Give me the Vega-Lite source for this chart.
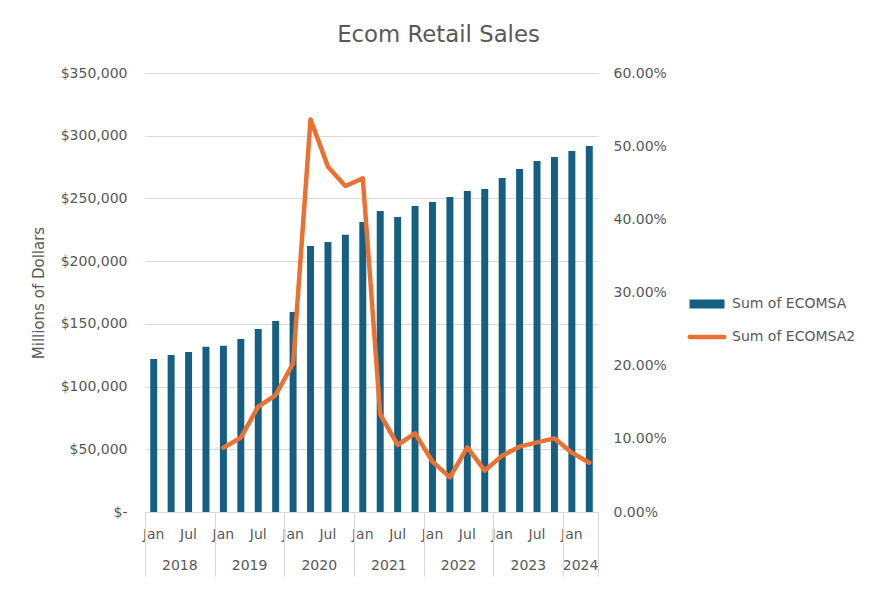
{
  "$schema": "https://vega.github.io/schema/vega-lite/v6.json",
  "width": 453,
  "height": 439,
  "autosize": {"type": "none"},
  "padding": {"left": 145, "top": 73, "right": 280, "bottom": 78},
  "background": "white",
  "title": {"text": "Ecom Retail Sales", "fontSize": 22.8, "font": "DejaVu Sans", "fontWeight": "normal", "color": "#595959", "anchor": "middle", "dx": 67, "offset": 19},
  "config": {
    "font": "DejaVu Sans",
    "view": {"stroke": null},
    "axis": {"labelFont": "DejaVu Sans", "labelFontSize": 14, "labelColor": "#595959", "titleFont": "DejaVu Sans", "titleColor": "#595959", "titleFontWeight": "normal", "domainColor": "#d9d9d9", "gridColor": "#d9d9d9", "tickColor": "#d9d9d9"},
    "legend": {"labelFont": "DejaVu Sans", "labelFontSize": 14, "labelColor": "#595959"}
  },
  "data": {"values": [
    {"q": "2018-Q1", "sales": 122000, "growth": null},
    {"q": "2018-Q2", "sales": 125200, "growth": null},
    {"q": "2018-Q3", "sales": 127600, "growth": null},
    {"q": "2018-Q4", "sales": 131800, "growth": null},
    {"q": "2019-Q1", "sales": 132600, "growth": 0.0879},
    {"q": "2019-Q2", "sales": 137900, "growth": 0.1016},
    {"q": "2019-Q3", "sales": 145900, "growth": 0.1440},
    {"q": "2019-Q4", "sales": 152300, "growth": 0.1599},
    {"q": "2020-Q1", "sales": 159500, "growth": 0.2032},
    {"q": "2020-Q2", "sales": 212100, "growth": 0.5366},
    {"q": "2020-Q3", "sales": 215300, "growth": 0.4720},
    {"q": "2020-Q4", "sales": 221100, "growth": 0.4455},
    {"q": "2021-Q1", "sales": 231200, "growth": 0.4560},
    {"q": "2021-Q2", "sales": 240000, "growth": 0.1335},
    {"q": "2021-Q3", "sales": 235200, "growth": 0.0916},
    {"q": "2021-Q4", "sales": 244000, "growth": 0.1075},
    {"q": "2022-Q1", "sales": 247200, "growth": 0.0688},
    {"q": "2022-Q2", "sales": 251100, "growth": 0.0474},
    {"q": "2022-Q3", "sales": 255900, "growth": 0.0884},
    {"q": "2022-Q4", "sales": 257500, "growth": 0.0565},
    {"q": "2023-Q1", "sales": 266300, "growth": 0.0770},
    {"q": "2023-Q2", "sales": 273500, "growth": 0.0893},
    {"q": "2023-Q3", "sales": 279800, "growth": 0.0952},
    {"q": "2023-Q4", "sales": 283000, "growth": 0.1007},
    {"q": "2024-Q1", "sales": 287800, "growth": 0.0811},
    {"q": "2024-Q2", "sales": 291800, "growth": 0.0674}
  ]},
  "layer": [
    {
      "mark": {"type": "bar"},
      "encoding": {
        "x": {"field": "q", "type": "ordinal", "scale": {"paddingInner": 0.6, "paddingOuter": 0.3},
          "axis": {"orient": "bottom", "title": null, "labelAngle": 0, "ticks": false, "domain": true, "grid": false, "labelPadding": 15,
            "values": ["2018-Q1","2018-Q3","2019-Q1","2019-Q3","2020-Q1","2020-Q3","2021-Q1","2021-Q3","2022-Q1","2022-Q3","2023-Q1","2023-Q3","2024-Q1"],
            "labelExpr": "indexof(datum.value, 'Q1') > 0 ? 'Jan' : 'Jul'"}},
        "y": {"field": "sales", "type": "quantitative", "scale": {"domain": [0, 350000]},
          "axis": {"orient": "left", "title": "Millions of Dollars", "titleFontSize": 15, "titlePadding": 14, "domain": false, "ticks": false, "grid": true, "labelPadding": 18,
            "values": [0, 50000, 100000, 150000, 200000, 250000, 300000, 350000],
            "labelExpr": "datum.value == 0 ? '$-' : '$' + format(datum.value, ',')"}},
        "color": {"datum": "Sum of ECOMSA", "type": "nominal",
          "scale": {"domain": ["Sum of ECOMSA", "Sum of ECOMSA2"], "range": ["#156082", "#E97132"]},
          "legend": {"title": null, "orient": "none", "legendX": 555, "legendY": 224, "symbolSize": 100, "rowPadding": 17, "labelOffset": 18, "padding": 0,
            "encode": {"symbols": {"update": {
              "shape": {"signal": "datum.value === 'Sum of ECOMSA' ? 'M-3.5,-0.9H3.5V0.9H-3.5Z' : 'M-3.45,0H3.45'"},
              "fill": {"signal": "datum.value === 'Sum of ECOMSA' ? '#156082' : 'transparent'"},
              "stroke": {"signal": "datum.value === 'Sum of ECOMSA' ? 'transparent' : '#E97132'"},
              "strokeWidth": {"signal": "datum.value === 'Sum of ECOMSA' ? 0 : 4.5"},
              "strokeCap": {"value": "round"},
              "opacity": {"value": 1}
            }}}}}
      }
    },
    {
      "mark": {"type": "line", "strokeWidth": 4.5, "strokeJoin": "round", "strokeCap": "round"},
      "encoding": {
        "x": {"field": "q", "type": "ordinal", "axis": null},
        "y": {"field": "growth", "type": "quantitative", "scale": {"domain": [0, 0.6]},
          "axis": {"orient": "right", "title": null, "domain": false, "ticks": false, "grid": false, "labelPadding": 15, "format": ".2%",
            "values": [0, 0.1, 0.2, 0.3, 0.4, 0.5, 0.6]}},
        "color": {"datum": "Sum of ECOMSA2", "type": "nominal"}
      }
    },
    {
      "mark": {"type": "point", "opacity": 0},
      "encoding": {
        "x": {"field": "q", "type": "ordinal",
          "axis": {"orient": "bottom", "title": null, "labelAngle": 0, "ticks": false, "domain": false, "grid": false, "labelPadding": 15, "offset": 31, "labelOffset": 8.71,
            "values": ["2018-Q2","2019-Q2","2020-Q2","2021-Q2","2022-Q2","2023-Q2","2024-Q1"],
            "labelExpr": "substring(datum.value, 0, 4)"}}
      }
    },
    {
      "mark": {"type": "point", "opacity": 0},
      "encoding": {
        "x": {"field": "q", "type": "ordinal",
          "axis": {"orient": "bottom", "title": null, "labels": false, "ticks": true, "tickSize": 64, "tickOffset": -8.71, "domain": false, "grid": false,
            "values": ["2018-Q1","2019-Q1","2020-Q1","2021-Q1","2022-Q1","2023-Q1","2024-Q1"]}}
      }
    },
    {
      "mark": {"type": "point", "opacity": 0},
      "encoding": {
        "x": {"field": "q", "type": "ordinal",
          "axis": {"orient": "bottom", "title": null, "labels": false, "ticks": true, "tickSize": 64, "tickOffset": 8.71, "domain": false, "grid": false,
            "values": ["2024-Q2"]}}
      }
    }
  ],
  "resolve": {"scale": {"y": "independent"}, "axis": {"x": "independent"}}
}
